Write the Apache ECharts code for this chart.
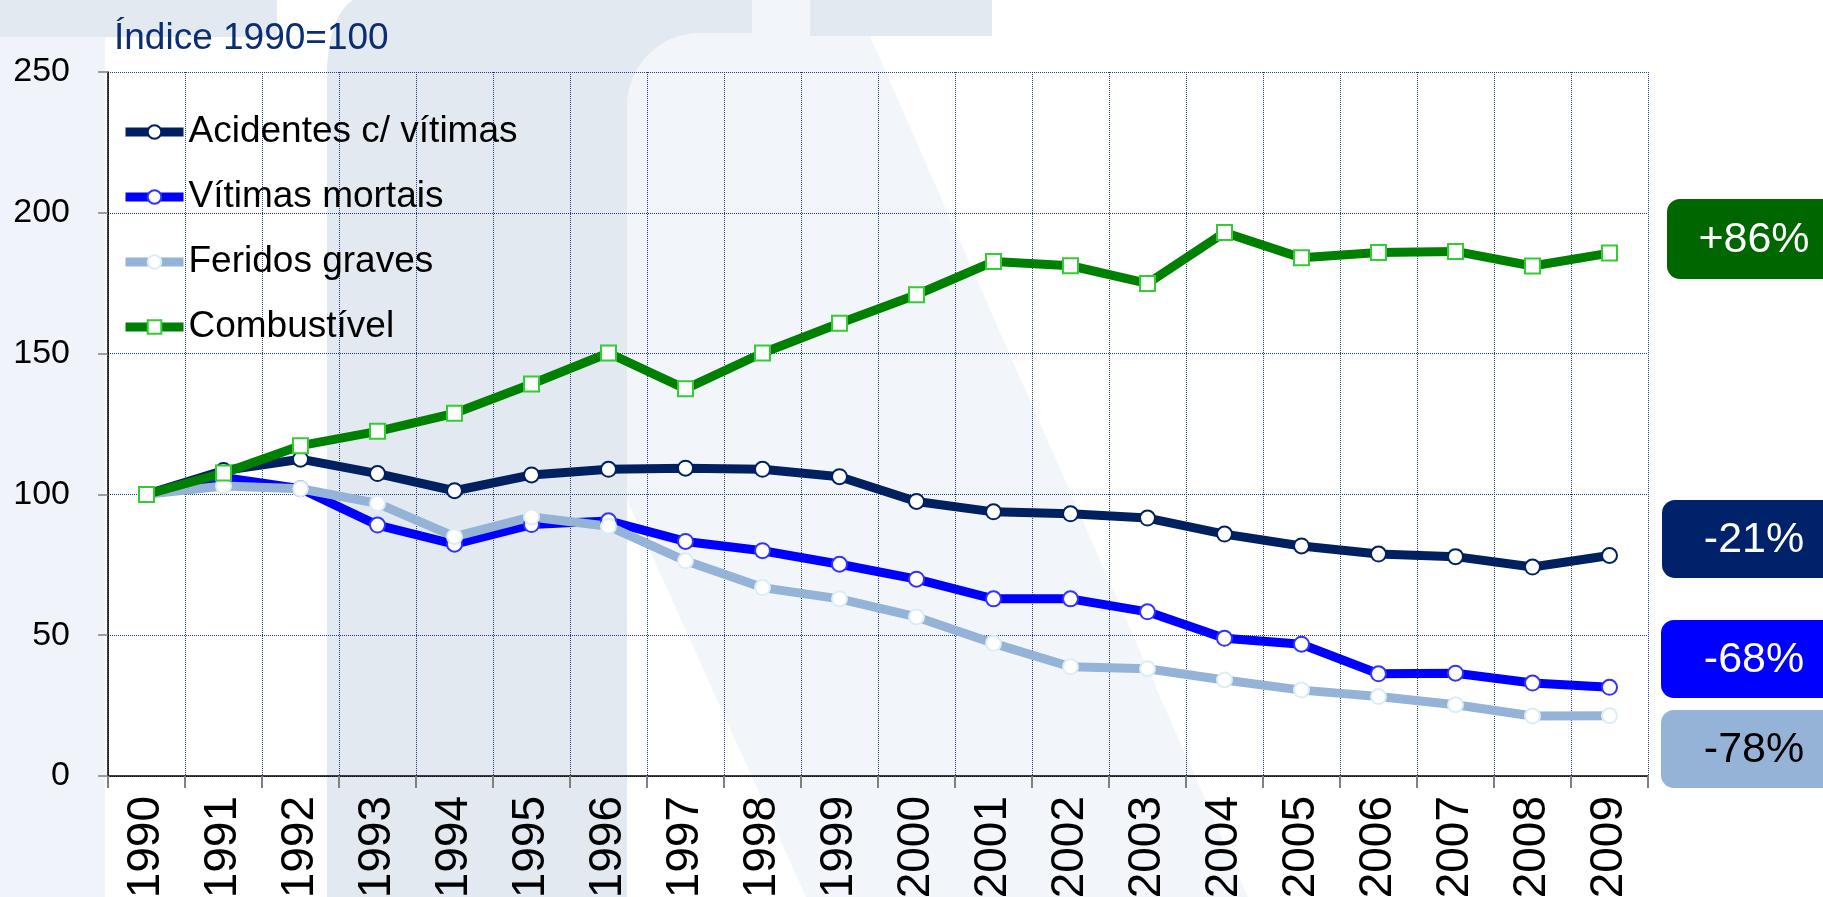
<!DOCTYPE html>
<html>
<head>
<meta charset="utf-8">
<script src="https://cdn.jsdelivr.net/npm/echarts@6/dist/echarts.min.js"></script>
<style>
html,body{margin:0;padding:0;background:#fff;}
#chart{width:1823px;height:897px;}
</style>
</head>
<body>
<div id="chart"></div>
<script>
// ---- data ----
const years = ['1990','1991','1992','1993','1994','1995','1996','1997','1998','1999','2000','2001','2002','2003','2004','2005','2006','2007','2008','2009'];
const acidentes = [100, 108.5, 112.5, 107.4, 101.3, 106.9, 108.9, 109.3, 108.9, 106.3, 97.5, 93.8, 93.1, 91.6, 85.9, 81.7, 78.8, 77.9, 74.2, 78.3];
const vitimas = [100, 106, 102, 89.1, 82.3, 89.3, 90.6, 83.3, 80.0, 75.2, 69.9, 62.9, 62.9, 58.3, 48.9, 46.8, 36.3, 36.5, 33.0, 31.5];
const feridos = [100, 103, 102, 96.8, 85.0, 92.0, 88.7, 76.4, 66.9, 62.9, 56.5, 47.1, 38.8, 38.1, 34.1, 30.5, 28.2, 25.3, 21.3, 21.4];
const combustivel = [100, 107.6, 117.3, 122.4, 128.8, 139.2, 150.2, 137.5, 150.2, 160.8, 170.9, 182.7, 181.2, 174.9, 193.0, 184.0, 185.9, 186.3, 181.1, 185.7];
const seriesNames = ['Acidentes c/ vítimas', 'Vítimas mortais', 'Feridos graves', 'Combustível'];
const changeLabels = ['+86%', '-21%', '-68%', '-78%'];
const yTicks = [0, 50, 100, 150, 200, 250];
const titleText = 'Índice 1990=100';

// ---- styling ----
const FONT = "'Liberation Sans', Arial, sans-serif";
const C_NAVY = '#002060', C_BLUE = '#0000FF', C_LIGHT = '#95B3D7', C_GREEN = '#008000';
const WM_DARK = '#E3E9F0', WM_LIGHT = '#F2F6FB', WM_STRIP = '#F0F4FA';
const GRID_C = '#1F3A80';

// watermark geometry (background decoration)
function arcPts(cx, cy, r, a0, a1, n) {
  const p = [];
  for (let i = 0; i <= n; i++) {
    const a = a0 + (a1 - a0) * i / n;
    p.push([cx + r * Math.cos(a), cy + r * Math.sin(a)]);
  }
  return p;
}
function quadPts(p0, c, p1, n) {
  const p = [];
  for (let i = 0; i <= n; i++) {
    const t = i / n;
    p.push([(1-t)*(1-t)*p0[0] + 2*(1-t)*t*c[0] + t*t*p1[0], (1-t)*(1-t)*p0[1] + 2*(1-t)*t*c[1] + t*t*p1[1]]);
  }
  return p;
}
const darkPts = [[752,0],[752,36],[700,36],[700,106],[627,106],[627,897],[327,897],[327,67]]
  .concat(quadPts([327,67],[330,15],[353,0],10));
const lightPts = arcPts(700,106,73,Math.PI,1.5*Math.PI,16)
  .concat([[752,33],[752,0],[810,0],[810,36],[870,36],[1248,897],[806,897],[627,500]]);

const wm = [
  {type:'rect', shape:{x:0,y:0,width:105,height:897}, style:{fill:WM_STRIP}, z:-20, silent:true},
  {type:'rect', shape:{x:0,y:0,width:277,height:37}, style:{fill:WM_DARK}, z:-19, silent:true},
  {type:'polygon', shape:{points:darkPts}, style:{fill:WM_DARK}, z:-19, silent:true},
  {type:'rect', shape:{x:810,y:0,width:182,height:36}, style:{fill:WM_DARK}, z:-19, silent:true},
  {type:'polygon', shape:{points:lightPts}, style:{fill:WM_LIGHT}, z:-18, silent:true}
];

const boxes = [
  {y:199, x:1667, h:80, fill:'#006600', txt:'#ffffff'},
  {y:500, x:1662, h:78, fill:'#00226A', txt:'#ffffff'},
  {y:620, x:1661, h:78, fill:'#0000FF', txt:'#ffffff'},
  {y:710, x:1661, h:78, fill:'#95B3D7', txt:'#000000'}
];
const boxEls = [];
boxes.forEach((b, i) => {
  boxEls.push({type:'rect', shape:{x:b.x, y:b.y, width:200, height:b.h, r:13}, style:{fill:b.fill}, z:50, silent:true});
  boxEls.push({type:'text', x:1754, y:b.y + b.h/2 + 1, style:{text:changeLabels[i], fill:b.txt, font:'43px ' + FONT, align:'center', verticalAlign:'middle'}, z:51, silent:true});
});

function mkSeries(name, data, color, symbol, border) {
  return {
    name: name, type: 'line', data: data,
    symbol: symbol, symbolSize: 15,
    showSymbol: true,
    lineStyle: {color: color, width: 9},
    itemStyle: {color: '#ffffff', borderColor: border, borderWidth: 2},
    emphasis: {disabled: true},
    animation: false
  };
}

const chart = echarts.init(document.getElementById('chart'), null, {renderer: 'canvas'});
chart.setOption({
  backgroundColor: '#ffffff',
  animation: false,
  title: {
    text: titleText, left: 109, top: 15,
    textStyle: {fontFamily: FONT, fontSize: 37, fontWeight: 'normal', color: '#0B2D72'}
  },
  legend: {
    orient: 'vertical', left: 116, top: 107,
    itemWidth: 58, itemHeight: 17, itemGap: 25,
    data: seriesNames,
    lineStyle: {width: 9},
    textStyle: {fontFamily: FONT, fontSize: 37, color: '#000', lineHeight: 40}
  },
  grid: {left: 108, right: 175, top: 72, bottom: 121, containLabel: false, outerBoundsMode: 'none'},
  xAxis: {
    type: 'category', data: years, boundaryGap: true,
    axisLine: {lineStyle: {color: '#000', width: 1.5}},
    axisTick: {show: true, length: 12, interval: 0, lineStyle: {color: '#808080', width: 2}},
    axisLabel: {rotate: 90, interval: 0, margin: 20, fontFamily: FONT, fontSize: 46, color: '#000'},
    splitLine: {show: true, interval: 0, lineStyle: {color: GRID_C, type: 'dotted', width: 1}}
  },
  yAxis: {
    type: 'value', min: yTicks[0], max: yTicks[yTicks.length-1], interval: 50,
    axisLine: {show: true, lineStyle: {color: '#000', width: 1.5}},
    axisTick: {show: true, length: 10, lineStyle: {color: '#808080', width: 1.5}},
    axisLabel: {margin: 38, fontFamily: FONT, fontSize: 34, color: '#000'},
    splitLine: {show: true, lineStyle: {color: GRID_C, type: 'dotted', width: 1}}
  },
  graphic: wm.concat(boxEls),
  series: [
    mkSeries(seriesNames[0], acidentes, C_NAVY, 'circle', C_NAVY),
    mkSeries(seriesNames[1], vitimas, C_BLUE, 'circle', '#3333FF'),
    mkSeries(seriesNames[2], feridos, C_LIGHT, 'circle', '#DAEEF3'),
    mkSeries(seriesNames[3], combustivel, C_GREEN, 'rect', '#33CC33')
  ]
});
</script>
</body>
</html>
